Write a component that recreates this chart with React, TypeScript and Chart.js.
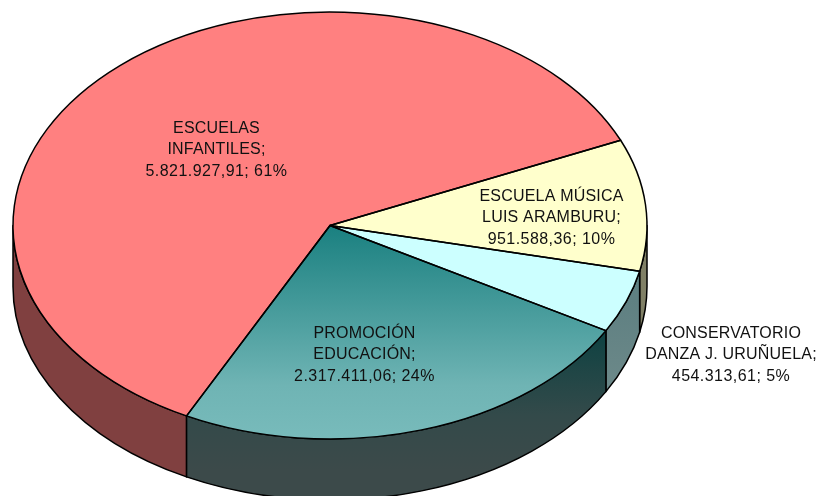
import React, { useEffect, useRef } from "react";
import { Chart, registerables } from "chart.js";

Chart.register(...registerables);

const categories = ["ESCUELAS INFANTILES", "ESCUELA MÚSICA LUIS ARAMBURU", "CONSERVATORIO DANZA J. URUÑUELA", "PROMOCIÓN EDUCACIÓN"];
const amounts = [5821927.91, 951588.36, 454313.61, 2317411.06];
const nameLines = [
  ["ESCUELAS", "INFANTILES;"],
  ["ESCUELA MÚSICA", "LUIS ARAMBURU;"],
  ["CONSERVATORIO", "DANZA J. URUÑUELA;"],
  ["PROMOCIÓN", "EDUCACIÓN;"],
];
const valueTexts = ["5.821.927,91; 61%", "951.588,36; 10%", "454.313,61; 5%", "2.317.411,06; 24%"];
const topColors = ["#FF8080", "#FFFFCC", "#CCFFFF", "#1A8080"];

// Projection of the round pie on to the tilted disc
const CX = 330;
const CY = 225.5;
const RX = 317;
const RY = 213.5;
const DEPTH = 61;
const ROTATION = -153.1;
const LABEL_CENTER_X = [216.5, 551.5, 731, 364.5];
const LABEL_TOP_BASELINE = [133, 201, 338, 338];
const LINE_HEIGHT = 21.3;

const sideFill = (ctx: CanvasRenderingContext2D, i: number) => {
  if (i === 0) return "#804040";
  if (i === 1) return "#808066";
  if (i === 2) {
    const g = ctx.createLinearGradient(0, 300, 0, 400);
    g.addColorStop(0, "#5F8082");
    g.addColorStop(1, "#6E8A8A");
    return g;
  }
  const g = ctx.createLinearGradient(0, 332, 0, 470);
  g.addColorStop(0, "#0E4242");
  g.addColorStop(0.6, "#334A4A");
  g.addColorStop(1, "#3C4A4A");
  return g;
};

const disc3d = {
  id: "disc3d",
  beforeDatasetsDraw(chart: any) {
    const ctx: CanvasRenderingContext2D = chart.ctx;
    const arcs = chart.getDatasetMeta(0).data;
    arcs.forEach((el: any, i: number) => {
      for (let k = -1; k <= 1; k++) {
        const lo = 2 * Math.PI * k;
        const a = Math.max(el.startAngle, lo);
        const b = Math.min(el.endAngle, lo + Math.PI);
        if (b <= a) continue;
        ctx.save();
        ctx.beginPath();
        ctx.ellipse(CX, CY, RX, RY, 0, a, b);
        ctx.ellipse(CX, CY + DEPTH, RX, RY, 0, b, a, true);
        ctx.closePath();
        ctx.fillStyle = sideFill(ctx, i);
        ctx.fill();
        ctx.lineWidth = 1.5;
        ctx.strokeStyle = "#000";
        ctx.lineJoin = "round";
        ctx.stroke();
        ctx.restore();
      }
    });
    const first = arcs[0];
    ctx.save();
    ctx.translate(CX, CY);
    ctx.scale(RX / first.outerRadius, RY / first.outerRadius);
    ctx.translate(-first.x, -first.y);
  },
  afterDatasetsDraw(chart: any) {
    const ctx: CanvasRenderingContext2D = chart.ctx;
    ctx.restore();
    const arcs = chart.getDatasetMeta(0).data;
    arcs.forEach((el: any) => {
      ctx.save();
      ctx.beginPath();
      ctx.moveTo(CX, CY);
      ctx.ellipse(CX, CY, RX, RY, 0, el.startAngle, el.endAngle);
      ctx.closePath();
      ctx.lineWidth = 1.5;
      ctx.strokeStyle = "#000";
      ctx.lineJoin = "round";
      ctx.stroke();
      ctx.restore();
    });
    ctx.save();
    ctx.fillStyle = "#111";
    ctx.font = '16px "Liberation Sans", Arial, sans-serif';
    ctx.textAlign = "center";
    ctx.textBaseline = "alphabetic";
    categories.forEach((_, i) => {
      const lines = [...nameLines[i], valueTexts[i]];
      lines.forEach((line, j) => {
        (ctx as any).letterSpacing = j === lines.length - 1 ? "0.45px" : "0.2px";
        ctx.fillText(line, LABEL_CENTER_X[i], LABEL_TOP_BASELINE[i] + j * LINE_HEIGHT);
      });
    });
    ctx.restore();
  },
};

export default function App() {
  const ref = useRef<HTMLCanvasElement>(null);
  useEffect(() => {
    document.body.style.margin = "0";
    const chart = new Chart(ref.current!, {
      type: "pie",
      data: {
        labels: categories,
        datasets: [
          {
            data: amounts,
            borderWidth: 0,
            backgroundColor: (c: any) => {
              const i = c.dataIndex;
              const area = c.chart.chartArea;
              if (i !== 3 || !area) return topColors[i];
              const cy = (area.top + area.bottom) / 2;
              const r = Math.min(area.width, area.height) / 2;
              const g = c.chart.ctx.createLinearGradient(0, cy, 0, cy + r);
              g.addColorStop(0, "#1A8080");
              g.addColorStop(0.75, "#6FB4B4");
              g.addColorStop(1, "#78BBBB");
              return g;
            },
          },
        ],
      },
      options: {
        responsive: false,
        animation: false,
        rotation: ROTATION,
        layout: { padding: 0 },
        plugins: { legend: { display: false }, tooltip: { enabled: false } },
      },
      plugins: [disc3d],
    } as any);
    return () => chart.destroy();
  }, []);
  return <canvas ref={ref} width={818} height={496} style={{ display: "block" }} />;
}
